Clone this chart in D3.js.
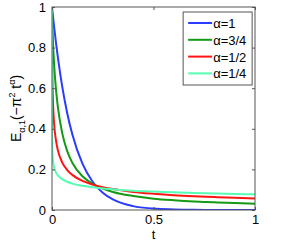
<!DOCTYPE html>
<html>
<head>
<meta charset="utf-8">
<script src="https://cdn.jsdelivr.net/npm/d3@7"></script>
<style>
  body { margin: 0; background: #fff; }
  svg text { font-family: "Liberation Sans", Arial, sans-serif; fill: #000; }
</style>
</head>
<body>
<svg id="chart"></svg>
<script>
// sample points in t
var tValues = [0, 0.0001, 0.0005, 0.001, 0.002, 0.005, 0.01, 0.02, 0.03, 0.05, 0.075,
               0.1, 0.15, 0.2, 0.25, 0.3, 0.4, 0.5, 0.6, 0.7, 0.8, 0.9, 1];

var alpha1 = [1, 0.999, 0.995, 0.990, 0.980, 0.952, 0.906, 0.821, 0.744, 0.610, 0.477,
              0.373, 0.228, 0.139, 0.085, 0.052, 0.019, 0.007, 0.003, 0.001, 0.0004, 0.0001, 0.00005];
var alpha34 = [1, 0.989, 0.965, 0.942, 0.905, 0.822, 0.724, 0.590, 0.499, 0.380, 0.290,
               0.233, 0.166, 0.129, 0.106, 0.089, 0.069, 0.056, 0.048, 0.042, 0.038, 0.034, 0.031];
var alpha12 = [1, 0.898, 0.793, 0.726, 0.647, 0.527, 0.431, 0.340, 0.290, 0.235, 0.197,
               0.173, 0.143, 0.125, 0.112, 0.103, 0.089, 0.080, 0.073, 0.068, 0.064, 0.060, 0.057];
var alpha14 = [1, 0.467, 0.370, 0.327, 0.289, 0.243, 0.212, 0.184, 0.169, 0.152, 0.139,
               0.130, 0.119, 0.112, 0.106, 0.102, 0.095, 0.091, 0.087, 0.084, 0.081, 0.079, 0.077];

var seriesNames = ['\u03b1=1', '\u03b1=3/4', '\u03b1=1/2', '\u03b1=1/4'];
var seriesColors = ['#2a3cff', '#149a14', '#ff1414', '#55ffb4'];
var seriesValues = [alpha1, alpha34, alpha12, alpha14];

var xTicks = [0, 0.5, 1];
var yTicks = [0, 0.2, 0.4, 0.6, 0.8, 1];

var width = 295, height = 242;
var margin = {top: 7, right: 40, bottom: 32, left: 52};
var plotW = width - margin.left - margin.right;
var plotH = height - margin.top - margin.bottom;

var svg = d3.select('#chart').attr('width', width).attr('height', height);

var x = d3.scaleLinear().domain([0, 1]).range([0, plotW]);
var y = d3.scaleLinear().domain([0, 1]).range([plotH, 0]);

var g = svg.append('g').attr('transform', 'translate(' + margin.left + ',' + margin.top + ')');

svg.append('defs').append('clipPath').attr('id', 'plot-clip')
    .append('rect').attr('width', plotW).attr('height', plotH);

// curves
var line = d3.line()
    .x(function (d) { return x(d[0]); })
    .y(function (d) { return y(d[1]); })
    .curve(d3.curveMonotoneX);

var curves = g.append('g').attr('clip-path', 'url(#plot-clip)');
seriesValues.forEach(function (vals, i) {
    var pts = tValues.map(function (t, j) { return [t, vals[j]]; });
    curves.append('path')
        .attr('d', line(pts))
        .attr('fill', 'none')
        .attr('stroke', seriesColors[i])
        .attr('stroke-width', 2);
});

// axes, MATLAB style: box with inward ticks on all sides
var axisColor = '#555';
function styleAxis(sel, hideText) {
    sel.select('.domain').remove();
    sel.selectAll('.tick line').attr('stroke', axisColor);
    sel.selectAll('.tick text').style('font-size', '13px').attr('fill', '#000');
    if (hideText) sel.selectAll('.tick text').remove();
}

g.append('g').attr('transform', 'translate(0,' + plotH + ')')
    .call(d3.axisBottom(x).tickValues(xTicks).tickSize(-3).tickPadding(5).tickFormat(d3.format('')))
    .call(styleAxis, false);
g.append('g')
    .call(d3.axisTop(x).tickValues(xTicks).tickSize(-3))
    .call(styleAxis, true);
g.append('g')
    .call(d3.axisLeft(y).tickValues(yTicks).tickSize(-3).tickPadding(6).tickFormat(d3.format('')))
    .call(styleAxis, false);
g.append('g').attr('transform', 'translate(' + plotW + ',0)')
    .call(d3.axisRight(y).tickValues(yTicks).tickSize(-3))
    .call(styleAxis, true);

g.append('rect')
    .attr('width', plotW).attr('height', plotH)
    .attr('fill', 'none').attr('stroke', axisColor).attr('stroke-width', 1);

// axis labels
g.append('text')
    .attr('x', plotW / 2).attr('y', plotH + 29)
    .attr('text-anchor', 'middle')
    .style('font-size', '13px')
    .text('t');

var yLab = svg.append('text')
    .attr('transform', 'translate(21,' + (margin.top + plotH / 2) + ') rotate(-90)')
    .attr('text-anchor', 'middle')
    .style('font-size', '14px');
yLab.append('tspan').text('E');
yLab.append('tspan').attr('dy', 4).style('font-size', '9px').text('\u03b1,1');
yLab.append('tspan').attr('dy', -4).text('(\u2212\u03c0');
yLab.append('tspan').attr('dy', -6).style('font-size', '9px').text('2');
yLab.append('tspan').attr('dy', 6).text(' t');
yLab.append('tspan').attr('dy', -6).style('font-size', '9px').text('\u03b1');
yLab.append('tspan').attr('dy', 6).text(')');

// legend
var legend = g.append('g').attr('transform', 'translate(' + (x(0.646)) + ',' + 5 + ')');
legend.append('rect')
    .attr('width', 69).attr('height', 73)
    .attr('fill', '#fff').attr('stroke', axisColor).attr('stroke-width', 1);
var legendItems = legend.selectAll('.legend-item')
    .data(seriesNames).enter()
    .append('g').attr('class', 'legend-item')
    .attr('transform', function (d, i) { return 'translate(0,' + (11 + i * 16.8) + ')'; });
legendItems.append('line')
    .attr('x1', 5).attr('x2', 29).attr('y1', 0).attr('y2', 0)
    .attr('stroke', function (d, i) { return seriesColors[i]; })
    .attr('stroke-width', 2);
legendItems.append('text')
    .attr('x', 30).attr('y', 5)
    .style('font-size', '13px')
    .text(function (d) { return d; });
</script>
</body>
</html>
